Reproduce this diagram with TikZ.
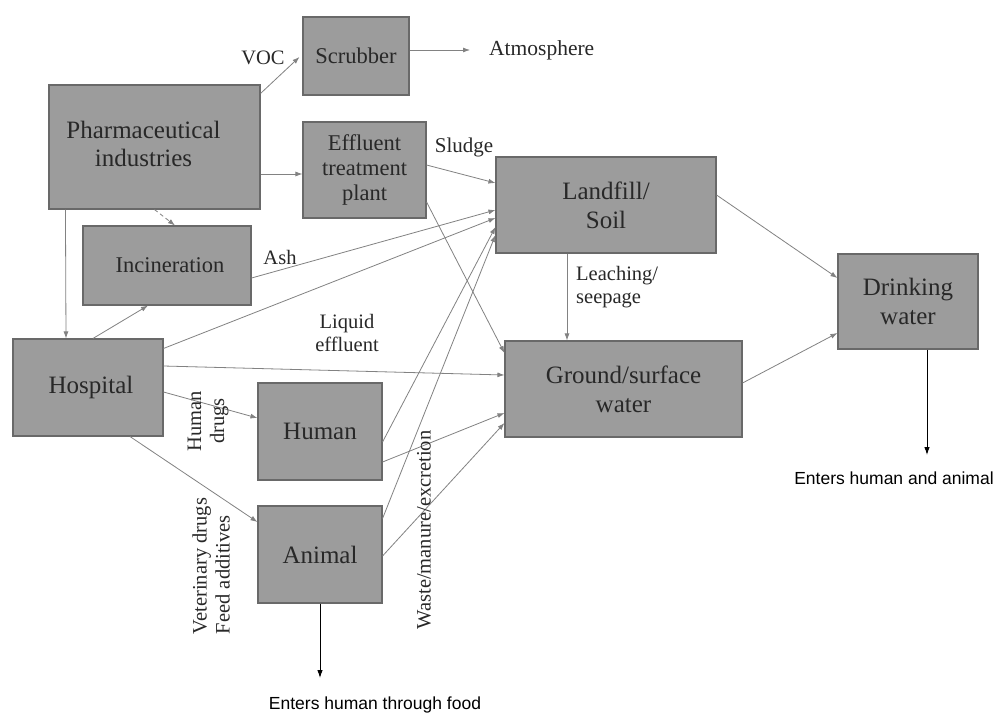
\documentclass[tikz,border=0pt]{standalone}
\usepackage{fontspec}
\setmainfont{Liberation Serif}
\newfontfamily\arialf{Liberation Sans}
\usetikzlibrary{arrows.meta}
\definecolor{boxfill}{RGB}{156,156,156}
\definecolor{boxline}{RGB}{105,105,105}
\definecolor{conn}{RGB}{130,130,130}
\definecolor{txt}{RGB}{40,40,40}
\tikzset{
  box/.style={draw=boxline, line width=1.1pt, fill=boxfill, text=txt, align=center, inner sep=0pt, font=\fontsize{25}{29}\selectfont},
  sbox/.style={box, font=\fontsize{22.5}{25}\selectfont},
  conn/.style={draw=conn, line width=0.8pt, -{Latex[length=7pt,width=5pt]}},
  outarrow/.style={draw=black, line width=0.9pt, -{Latex[length=8pt,width=5.5pt]}},
  lbl/.style={text=txt, font=\fontsize{20.5}{23}\selectfont, inner sep=0pt},
  btxt/.style={text=black, font=\arialf\fontsize{17.5}{20}\selectfont, inner sep=0pt}
}
\begin{document}
\begin{tikzpicture}[x=1pt,y=-1pt]
\useasboundingbox[fill=white] (0,0) rectangle (997,713);
% boxes
\node[sbox, minimum width=106pt, minimum height=78pt] (scrub) at (356,56) {Scrubber};
\node[box, align=none, minimum width=211pt, minimum height=124pt] (pharma) at (154.5,147) {\begin{tabular}{@{}c@{}}Pharmaceutical\\[-1pt]industries\end{tabular}\kern22pt};
\node[sbox, minimum width=123pt, minimum height=96pt] (etp) at (364.5,170) {Effluent\\treatment\\plant};
\node[sbox, minimum width=168pt, minimum height=79pt] (incin) at (167,265.5) {\hspace{6pt}Incineration};
\node[box, minimum width=220pt, minimum height=96pt] (land) at (606,205) {Landfill/\\Soil};
\node[box, minimum width=237pt, minimum height=96pt] (ground) at (623.5,389) {Ground/surface\\water};
\node[box, minimum width=140pt, minimum height=95pt] (drink) at (908,301.5) {Drinking\\water};
\node[box, minimum width=150pt, minimum height=97pt] (hosp) at (88,387.5) {\hspace{6pt}Hospital};
\node[box, minimum width=124pt, minimum height=97pt] (human) at (320,431.5) {Human};
\node[box, minimum width=124pt, minimum height=97pt] (animal) at (320,554.5) {Animal};
% free ends
\coordinate (atm) at (470,50);
\coordinate (dwout) at (927,455);
\coordinate (anout) at (320,678);
% connectors
\draw[conn] ([yshift=-9pt]pharma.north east) -- ([yshift=-1pt,xshift=-3pt]scrub.west);
\draw[conn] ([yshift=6pt]scrub.east) -- (atm);
\draw[conn] ([yshift=-27pt]pharma.east) -- ([yshift=-4pt]etp.west);
\draw[conn, dash pattern=on 4pt off 3pt] (pharma.south) -- ([xshift=8pt]incin.north);
\draw[conn] ([xshift=17pt]pharma.south west) -- ([xshift=-22pt]hosp.north);
\draw[conn] ([xshift=5pt]hosp.north) -- ([xshift=-19pt]incin.south);
\draw[conn] ([yshift=5pt]etp.east) -- ([yshift=22pt]land.west);
\draw[conn] ([yshift=-32pt]etp.east) -- ([yshift=36pt]ground.west);
\draw[conn] ([yshift=-12.5pt]incin.east) -- ([yshift=-5pt]land.west);
\draw[conn] ([yshift=-10pt]hosp.north east) -- ([yshift=-13pt]land.west);
\draw[conn] ([yshift=21.5pt]hosp.east) -- ([yshift=14pt]ground.west);
\draw[conn] ([yshift=-4.5pt]hosp.east) -- ([yshift=13.5pt]human.west);
\draw[conn] ([xshift=42pt]hosp.south) -- ([yshift=32.5pt]animal.west);
\draw[conn] ([yshift=-10.5pt]human.east) -- ([yshift=-22pt]land.west);
\draw[conn] ([yshift=-30.5pt]human.east) -- ([yshift=-24pt]ground.west);
\draw[conn] ([yshift=36pt]animal.east) -- ([yshift=-30pt]land.west);
\draw[conn] ([yshift=-1.5pt]animal.east) -- ([yshift=-34pt]ground.west);
\draw[conn] ([xshift=-39pt]land.south) -- ([xshift=-56.5pt]ground.north);
\draw[conn] ([yshift=10pt]land.east) -- ([yshift=23.5pt]drink.west);
\draw[conn] ([yshift=6pt]ground.east) -- ([yshift=-31.5pt]drink.west);
\draw[outarrow] ([xshift=19pt]drink.south) -- (dwout);
\draw[outarrow] (animal.south) -- (anout);
% labels
\node[lbl] (voc) at (263,58) {VOC};
\node[lbl, font=\fontsize{21.5}{25}\selectfont, anchor=west] (atmt) at (489,50) {Atmosphere};
\node[lbl, font=\fontsize{21}{25}\selectfont] (sludge) at (464,147) {Sludge};
\node[lbl] (ash) at (280,257) {Ash};
\node[lbl, align=center] (liq) at (347,333) {Liquid\\effluent};
\node[lbl, align=left, anchor=west] (leach) at (576,287) {Leaching/\\seepage};
\node[lbl, align=center, rotate=90] (hdrugs) at (208,421) {Human\\drugs};
\node[lbl, align=left, rotate=90] (vdrugs) at (211,566) {Veterinary drugs\\Feed additives};
\node[lbl, rotate=90] (waste) at (424,530) {Waste/manure/excretion};
\node[btxt] (food) at (375,705) {Enters human through food};
\node[btxt] (ha) at (894,478) {Enters human and animal};
\end{tikzpicture}
\end{document}
